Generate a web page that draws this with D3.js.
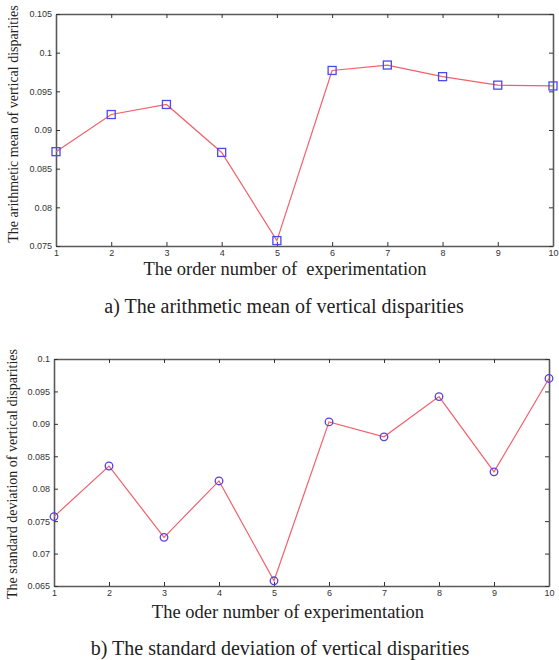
<!DOCTYPE html>
<html>
<head>
<meta charset="utf-8">
<script src="https://cdn.jsdelivr.net/npm/d3@7/dist/d3.min.js"></script>
<style>
  html, body { margin: 0; padding: 0; background: #fff; }
  svg { display: block; }
</style>
</head>
<body>
<svg id="chart" width="559" height="660"></svg>
<script>
// ---- data ----
const experiments = [1, 2, 3, 4, 5, 6, 7, 8, 9, 10];
const meanValues = [0.0872, 0.0920, 0.0933, 0.0871, 0.0757, 0.0977, 0.0984, 0.0969, 0.0958, 0.0957];
const stdValues  = [0.0757, 0.0835, 0.0725, 0.0812, 0.0658, 0.0903, 0.0880, 0.0942, 0.0826, 0.0970];
const meanTicks = [0.075, 0.08, 0.085, 0.09, 0.095, 0.1, 0.105];
const stdTicks  = [0.065, 0.07, 0.075, 0.08, 0.085, 0.09, 0.095, 0.1];

const svg = d3.select("#chart");

function panel(cfg) {
  const x = d3.scaleLinear().domain([1, 10]).range([cfg.left, cfg.right]);
  const y = d3.scaleLinear().domain(cfg.yDomain).range([cfg.bottom, cfg.top]);
  const g = svg.append("g");
  const axisColor = "#5a5a5a";
  const fmt = d => String(+d.toFixed(3));
  const tickFont = "Liberation Sans, Arial, sans-serif";

  const bx = g.append("g").attr("transform", `translate(0,${cfg.bottom})`)
    .call(d3.axisBottom(x).tickValues(experiments).tickSizeInner(-4).tickSizeOuter(0).tickPadding(5).tickFormat(d3.format("d")));
  const tx = g.append("g").attr("transform", `translate(0,${cfg.top})`)
    .call(d3.axisTop(x).tickValues(experiments).tickSizeInner(-4).tickSizeOuter(0).tickFormat(""));
  const ly = g.append("g").attr("transform", `translate(${cfg.left},0)`)
    .call(d3.axisLeft(y).tickValues(cfg.yTicks).tickSizeInner(-4).tickSizeOuter(0).tickPadding(4).tickFormat(fmt));
  const ry = g.append("g").attr("transform", `translate(${cfg.right},0)`)
    .call(d3.axisRight(y).tickValues(cfg.yTicks).tickSizeInner(-4).tickSizeOuter(0).tickFormat(""));

  [bx, tx, ly, ry].forEach(a => {
    a.select(".domain").attr("stroke", axisColor).attr("stroke-width", 1.6);
    a.selectAll(".tick line").attr("stroke", "#333").attr("stroke-width", 1);
    a.selectAll(".tick text").attr("fill", "#333").attr("font-family", tickFont).attr("font-size", 9);
  });
  bx.selectAll(".tick text").attr("dy", "0.6em");

  const line = d3.line().x((d, i) => x(experiments[i])).y(d => y(d));
  g.append("path").datum(cfg.values)
    .attr("d", line).attr("fill", "none")
    .attr("stroke", "#f2606a").attr("stroke-width", 1.2);

  if (cfg.marker === "square") {
    g.selectAll("rect.m").data(cfg.values).enter().append("rect")
      .attr("class", "m")
      .attr("x", (d, i) => x(experiments[i]) - 4)
      .attr("y", d => y(d) - 4)
      .attr("width", 8).attr("height", 8)
      .attr("fill", "none").attr("stroke", "#4a4af0").attr("stroke-width", 1.3);
  } else {
    g.selectAll("circle.m").data(cfg.values).enter().append("circle")
      .attr("class", "m")
      .attr("cx", (d, i) => x(experiments[i]))
      .attr("cy", d => y(d))
      .attr("r", 3.8)
      .attr("fill", "none").attr("stroke", "#5a40e0").attr("stroke-width", 1.3);
  }

  const serif = "Liberation Serif, Times New Roman, serif";
  g.append("text")
    .attr("transform", `translate(${cfg.yLabelX},${cfg.yLabelY}) rotate(-90)`)
    .attr("text-anchor", "middle").attr("dominant-baseline", "central")
    .attr("font-family", serif).attr("font-size", 14).attr("fill", "#222")
    .text(cfg.yLabel);
  g.append("text")
    .attr("x", cfg.xLabelX).attr("y", cfg.xLabelY)
    .attr("text-anchor", "middle").attr("dominant-baseline", "central")
    .attr("font-family", serif).attr("font-size", 18.5).attr("fill", "#222")
    .attr("xml:space", "preserve")
    .text(cfg.xLabel);
  g.append("text")
    .attr("x", cfg.capX).attr("y", cfg.capY)
    .attr("text-anchor", "middle").attr("dominant-baseline", "central")
    .attr("font-family", serif).attr("font-size", 20).attr("fill", "#222")
    .text(cfg.caption);
}

panel({
  left: 56, right: 553, top: 14, bottom: 246,
  yDomain: [0.075, 0.105], yTicks: meanTicks, values: meanValues, marker: "square",
  yLabel: "The arithmetic mean of vertical disparities", yLabelX: 13, yLabelY: 124,
  xLabel: "The order number of  experimentation", xLabelX: 285, xLabelY: 269,
  caption: "a) The arithmetic mean of vertical disparities", capX: 284, capY: 306
});

panel({
  left: 54, right: 549, top: 359, bottom: 586,
  yDomain: [0.065, 0.1], yTicks: stdTicks, values: stdValues, marker: "circle",
  yLabel: "The standard deviation of vertical disparities", yLabelX: 12, yLabelY: 474,
  xLabel: "The oder number of experimentation", xLabelX: 288, xLabelY: 612,
  caption: "b) The standard deviation of vertical disparities", capX: 280, capY: 648
});
</script>
</body>
</html>
